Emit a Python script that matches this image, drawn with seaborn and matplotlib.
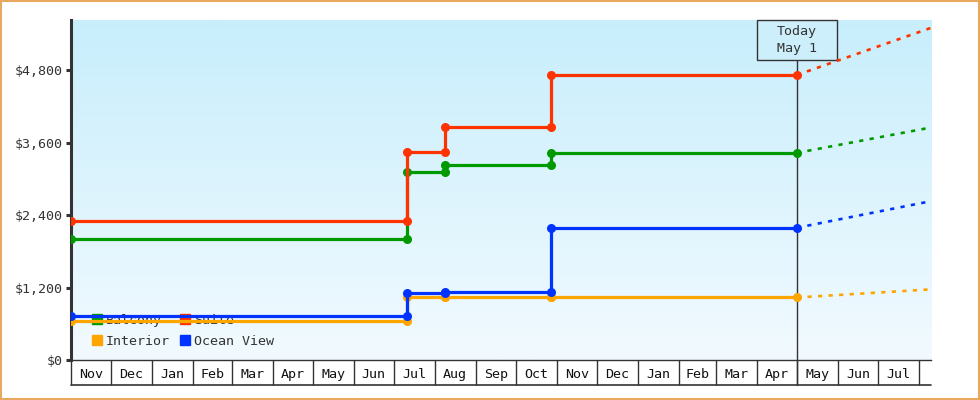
import matplotlib
matplotlib.use("Agg")
import matplotlib.pyplot as plt
import matplotlib.dates as mdates
from matplotlib.colors import LinearSegmentedColormap
from matplotlib.patches import Patch, Rectangle
import seaborn as sns
import pandas as pd
import numpy as np

# price history (step changes, each change listed twice)
step_dates = ["2023-11-01", "2024-07-11", "2024-07-11", "2024-08-09", "2024-08-09",
              "2024-10-28", "2024-10-28", "2025-05-01"]
balcony = [2000, 2000, 3110, 3110, 3230, 3230, 3430, 3430]
suite = [2300, 2300, 3440, 3440, 3860, 3860, 4720, 4720]
interior = [650, 650, 1040, 1040, 1035, 1035, 1035, 1035]
ocean_view = [730, 730, 1110, 1110, 1125, 1125, 2190, 2190]

# projection from today to the end of the axis
today = "2025-05-01"
proj_end = "2025-08-10"
proj_end_values = {"Balcony": 3850, "Suite": 5500, "Interior": 1170, "Ocean View": 2630}

month_labels = ["Nov", "Dec", "Jan", "Feb", "Mar", "Apr", "May", "Jun", "Jul", "Aug", "Sep", "Oct",
                "Nov", "Dec", "Jan", "Feb", "Mar", "Apr", "May", "Jun", "Jul"]
y_ticks = [0, 1200, 2400, 3600, 4800]

colors = {"Balcony": "#009900", "Suite": "#ff3300", "Interior": "#ffa500", "Ocean View": "#0033ff"}
series = {"Balcony": balcony, "Suite": suite, "Interior": interior, "Ocean View": ocean_view}

rows = []
for name, vals in series.items():
    for d, v in zip(step_dates, vals):
        rows.append({"date": pd.Timestamp(d), "price": v, "cabin": name})
df = pd.DataFrame(rows)

sns.set_theme(style="white")
plt.rcParams["font.family"] = ["DejaVu Sans Mono"]
ink = "#333333"

fig = plt.figure(figsize=(9.8, 4), dpi=100)
ax = fig.add_axes([71 / 980, 40 / 400, 860 / 980, 340 / 400])

x0 = mdates.date2num(pd.Timestamp("2023-11-01"))
x1 = mdates.date2num(pd.Timestamp(proj_end))
t = mdates.date2num(pd.Timestamp(today))

# gradient background
grad = np.linspace(0, 1, 256).reshape(-1, 1)
cmap = LinearSegmentedColormap.from_list("bg", ["#f2faff", "#c8eefc"])
ax.imshow(grad, extent=[0, 1, 0, 1], transform=ax.transAxes, aspect="auto",
          cmap=cmap, origin="lower", zorder=0)

# today marker line and box
box_h = 40 / 340
ax.plot([t, t], [1 - box_h, -25 / 340], transform=ax.get_xaxis_transform(),
        color=ink, lw=1, clip_on=False, zorder=3)
box_w = 80 * (x1 - x0) / 860
ax.add_patch(Rectangle((t - box_w / 2, 1 - box_h), box_w, box_h, transform=ax.get_xaxis_transform(),
                       facecolor="#cdeffc", edgecolor=ink, lw=1, zorder=4, clip_on=False))
ax.text(t, 1 - box_h / 2, "Today\nMay 1", transform=ax.get_xaxis_transform(), ha="center",
        va="center", fontsize=9.6, color=ink, linespacing=1.4, zorder=5)

sns.lineplot(data=df, x="date", y="price", hue="cabin", palette=colors, estimator=None,
             sort=False, units="cabin", marker="o", markersize=6.5, markeredgewidth=0,
             linewidth=2.3, legend=False, ax=ax, zorder=6)

for name, vals in series.items():
    sns.lineplot(x=[pd.Timestamp(today), pd.Timestamp(proj_end)], y=[vals[-1], proj_end_values[name]],
                 color=colors[name], linewidth=1.9, linestyle=(0, (1.6, 2.4)), ax=ax, zorder=6)

ax.set_xlim(x0, x1)
ax.set_ylim(0, 5630)

# y axis
ax.set_yticks(y_ticks)
ax.set_yticklabels([f"${v:,}" for v in y_ticks])
ax.tick_params(axis="y", length=3.6, width=2.2, color=ink, labelsize=9.6, labelcolor=ink, pad=2, left=True)
for s in ["top", "right"]:
    ax.spines[s].set_visible(False)
ax.spines["left"].set_color(ink)
ax.spines["left"].set_linewidth(2.2)
ax.spines["bottom"].set_color(ink)
ax.spines["bottom"].set_linewidth(1)
ax.set_xlabel("")
ax.set_ylabel("")

# month cells under the axis
bounds = pd.date_range("2023-11-01", "2025-08-01", freq="MS")
bnums = mdates.date2num(bounds)
mids = [(a + b) / 2 for a, b in zip(bnums[:-1], bnums[1:])]
ax.set_xticks(mids)
ax.set_xticklabels(month_labels)
ax.tick_params(axis="x", length=0, labelsize=9.6, labelcolor="#111111", pad=6)
xt = ax.get_xaxis_transform()
ax.vlines(bnums, -25 / 340, 0, transform=xt, color=ink, lw=1, clip_on=False)
ax.plot([0, 1], [-25 / 340, -25 / 340], transform=ax.transAxes, color=ink, lw=1.2, clip_on=False)

handles = [Patch(color=colors[n], label=n) for n in ["Balcony", "Interior", "Suite", "Ocean View"]]
leg = ax.legend(handles=handles, ncol=2, loc="lower left", bbox_to_anchor=(0.011, 0.0),
                frameon=False, handlelength=0.75, handleheight=0.75, handletextpad=0.25,
                columnspacing=0.8, labelspacing=0.6, fontsize=9.6)
for txt in leg.get_texts():
    txt.set_color(ink)
leg.set_zorder(2)

fig.patches.append(Rectangle((0.001, 0.002), 0.998, 0.996, transform=fig.transFigure, fill=False,
                             edgecolor="#e8a860", lw=1.5))

fig.savefig("out.png", dpi=100)
